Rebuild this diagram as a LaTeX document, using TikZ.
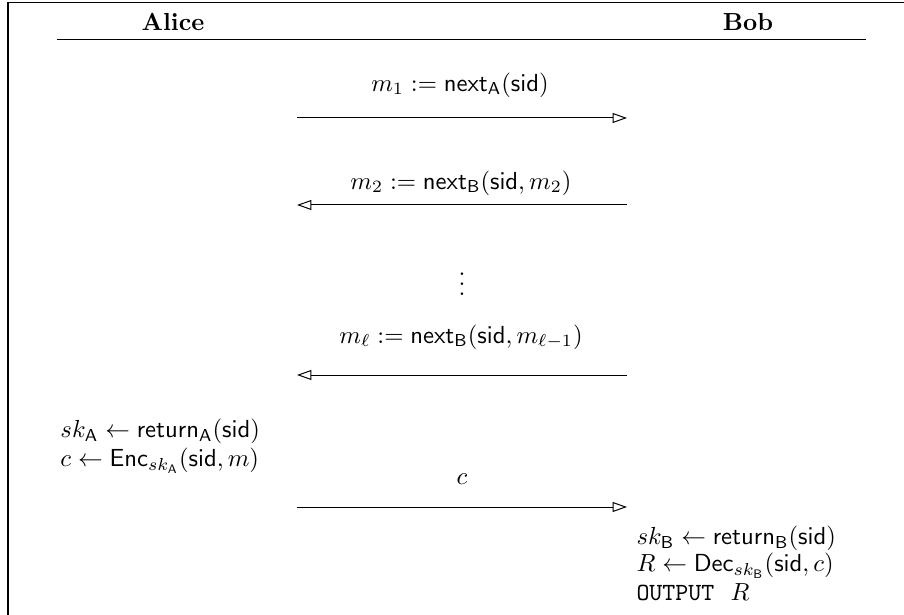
\documentclass[tikz,border=0pt]{standalone}
\usetikzlibrary{arrows.meta}
\begin{document}
\begin{tikzpicture}[x=0.405pt,y=-0.405pt,
  msg/.style={-{Triangle[open,length=5.8pt,width=4pt]}},
  lbl/.style={inner sep=0pt}]
\useasboundingbox (0,0) rectangle (904,615);
% frame
\draw[line width=0.5pt] (8,615) -- (8,2.5) -- (904,2.5);
% header
\node[lbl,anchor=base] (alice) at (173,31) {\textbf{Alice}};
\node[lbl,anchor=base] (bob) at (748,31) {\textbf{Bob}};
\coordinate (hl) at (57,40);
\coordinate (hr) at (866,40);
\draw (hl) -- (hr);
% message 1
\node[lbl] (l1) at (460,85) {$m_1 := \mathsf{next}_{\mathsf{A}}(\mathsf{sid})$};
\coordinate (a1s) at (297,118);
\coordinate (a1e) at (627,118);
\draw[msg] (a1s) -- (a1e);
% message 2
\node[lbl] (l2) at (461,183) {$m_2 := \mathsf{next}_{\mathsf{B}}(\mathsf{sid}, m_2)$};
\coordinate (a2s) at (627,205);
\coordinate (a2e) at (297,205);
\draw[msg] (a2s) -- (a2e);
% dots
\node[lbl] (dots) at (462,277) {$\vdots$};
% message l
\node[lbl] (l3) at (461,337) {$m_\ell := \mathsf{next}_{\mathsf{B}}(\mathsf{sid}, m_{\ell-1})$};
\coordinate (a3s) at (627,375);
\coordinate (a3e) at (297,375);
\draw[msg] (a3s) -- (a3e);
% Alice computations
\node[lbl,anchor=base west] (al1) at (60,437.5) {$sk_{\mathsf{A}} \leftarrow \mathsf{return}_{\mathsf{A}}(\mathsf{sid})$};
\node[lbl,anchor=base west] (al2) at (60,467) {$c \leftarrow \mathsf{Enc}_{sk_{\mathsf{A}}}(\mathsf{sid}, m)$};
% message c
\node[lbl,anchor=base] (l4) at (462,485) {$c$};
\coordinate (a4s) at (297,507);
\coordinate (a4e) at (627,507);
\draw[msg] (a4s) -- (a4e);
% Bob computations
\node[lbl,anchor=base west] (bl1) at (636,545) {$sk_{\mathsf{B}} \leftarrow \mathsf{return}_{\mathsf{B}}(\mathsf{sid})$};
\node[lbl,anchor=base west] (bl2) at (636,572) {$R \leftarrow \mathsf{Dec}_{sk_{\mathsf{B}}}(\mathsf{sid}, c)$};
\node[lbl,anchor=base west] (bl3) at (636,600) {\texttt{OUTPUT}\ \ $R$};
\end{tikzpicture}
\end{document}
